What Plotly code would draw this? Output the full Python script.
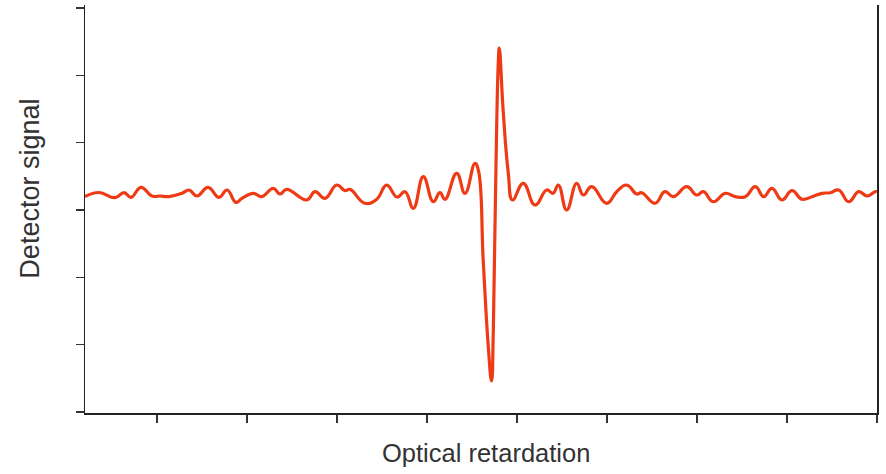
import plotly.graph_objects as go

# Optical retardation (tick units) and detector signal (arbitrary units)
retardation = [
    -0.800, -0.644, -0.467, -0.367, -0.289, -0.178, -0.056, 0.033, 0.133, 0.278,
    0.356, 0.444, 0.567, 0.689, 0.778, 0.878, 0.944, 1.070, 1.163, 1.292,
    1.367, 1.441, 1.663, 1.756, 1.867, 1.997, 2.089, 2.144, 2.311, 2.441,
    2.552, 2.667, 2.756, 2.848, 2.959, 3.070, 3.144, 3.200, 3.330, 3.422,
    3.533, 3.570, 3.626, 3.681, 3.717, 3.737, 3.767, 3.792, 3.803, 3.848,
    3.903, 3.950, 4.070, 4.200, 4.330, 4.400, 4.459, 4.552, 4.663, 4.737,
    4.830, 4.997, 5.108, 5.219, 5.330, 5.386, 5.533, 5.644, 5.737, 5.886,
    5.997, 6.070, 6.181, 6.314, 6.426, 6.537, 6.648, 6.741, 6.833, 6.944,
    7.056, 7.167, 7.278, 7.389, 7.481, 7.574, 7.686, 7.797, 7.889, 7.981,
    8.000,
]
signal = [
    0.200, 0.260, 0.183, 0.257, 0.189, 0.337, 0.208, 0.208, 0.200, 0.248,
    0.297, 0.208, 0.337, 0.189, 0.297, 0.114, 0.174, 0.248, 0.198, 0.322,
    0.238, 0.307, 0.149, 0.272, 0.174, 0.371, 0.287, 0.307, 0.100, 0.159,
    0.371, 0.193, 0.272, 0.025, 0.495, 0.123, 0.257, 0.159, 0.545, 0.248,
    0.694, 0.594, -0.787, -2.030, -2.540, -1.782, 0.698, 2.184, 2.406, 1.441,
    0.550, 0.149, 0.397, 0.074, 0.297, 0.248, 0.371, 0.000, 0.397, 0.223,
    0.346, 0.100, 0.272, 0.371, 0.238, 0.257, 0.100, 0.272, 0.198, 0.346,
    0.223, 0.272, 0.123, 0.248, 0.198, 0.198, 0.346, 0.198, 0.322, 0.149,
    0.287, 0.159, 0.198, 0.248, 0.257, 0.297, 0.123, 0.272, 0.208, 0.272,
    0.267,
]

x_ticks = [0, 1, 2, 3, 4, 5, 6, 7, 8]
y_ticks = [-3, -2, -1, 0, 1, 2, 3]

fig = go.Figure()
fig.add_trace(go.Scatter(
    x=retardation, y=signal, mode="lines",
    line=dict(color="#EE3B16", width=3.2, shape="spline", smoothing=1.3),
    hoverinfo="skip", showlegend=False,
))

axis_style = dict(
    showgrid=False, zeroline=False, showticklabels=False,
    ticks="outside", ticklen=8, tickwidth=1.2, tickcolor="#333333",
    showline=True, linecolor="#222222", linewidth=1.5,
)
fig.update_xaxes(range=[-0.8, 8], tickvals=x_ticks, **axis_style)
fig.update_yaxes(range=[-3.015, 3.045], tickvals=y_ticks, mirror=True, **axis_style)

font_family = "Liberation Sans, Arial, sans-serif"
fig.add_annotation(
    text="Detector signal", textangle=-90, showarrow=False,
    xref="paper", yref="paper", x=-0.0694, y=0.55,
    xanchor="center", yanchor="middle",
    font=dict(family=font_family, size=27, color="#333333"),
)
fig.add_annotation(
    text="Optical retardation", showarrow=False,
    xref="paper", yref="paper", x=0.506, y=-0.098,
    xanchor="center", yanchor="middle",
    font=dict(family=font_family, size=25.5, color="#333333"),
)

fig.update_layout(
    width=886, height=474,
    margin=dict(l=85, r=9, t=5, b=61),
    paper_bgcolor="white", plot_bgcolor="white",
)

fig.write_html(
    "out.html",
    config={"displayModeBar": False, "staticPlot": True},
    post_script="document.body.style.margin='0';",
)
